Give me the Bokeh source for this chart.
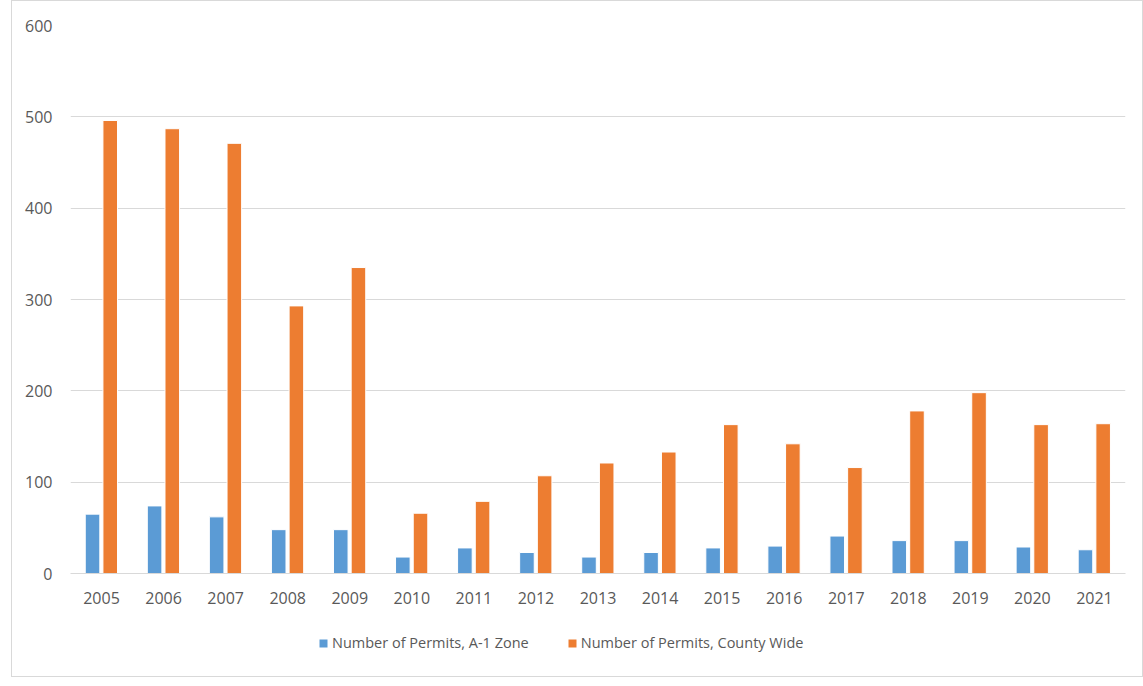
from bokeh.plotting import figure
from bokeh.layouts import column
from bokeh.models import ColumnDataSource, FactorRange, Legend, LegendItem, Range1d, FixedTicker
from bokeh.transform import dodge
from bokeh.embed import file_html
from bokeh.resources import INLINE

years = ["2005", "2006", "2007", "2008", "2009", "2010", "2011", "2012", "2013",
         "2014", "2015", "2016", "2017", "2018", "2019", "2020", "2021"]
a1_zone = [65, 74, 62, 48, 48, 18, 28, 23, 18, 23, 28, 30, 41, 36, 36, 29, 26]
county_wide = [496, 487, 471, 293, 335, 66, 79, 107, 121, 133, 163, 142, 116, 178, 198, 163, 164]
y_ticks = [0, 100, 200, 300, 400, 500, 600]
series_names = ["Number of Permits, A-1 Zone", "Number of Permits, County Wide"]
colors = ["#5B9BD5", "#ED7D31"]

src = ColumnDataSource(dict(year=years, a1=a1_zone, cw=county_wide))

FONT = "Open Sans"
TXT = "#595959"

p = figure(width=1130, height=632, x_range=FactorRange(*years), y_range=Range1d(0, 600),
           output_backend="svg", toolbar_location=None,
           min_border_left=58, min_border_right=17, min_border_top=24, min_border_bottom=60)
p.outline_line_color = None

p.vbar(x=dodge("year", -0.145, range=p.x_range), top="a1", width=0.235, source=src,
       fill_color=colors[0], line_color="white", line_width=1)
p.vbar(x=dodge("year", 0.14, range=p.x_range), top="cw", width=0.235, source=src,
       fill_color=colors[1], line_color="white", line_width=1)

p.xgrid.grid_line_color = None
p.ygrid.grid_line_color = "#d9d9d9"
p.ygrid.grid_line_width = 1
p.yaxis.ticker = FixedTicker(ticks=y_ticks)
p.yaxis.axis_line_color = None
p.yaxis.major_tick_line_color = None
p.yaxis.minor_tick_line_color = None
p.yaxis.major_tick_out = 0
p.yaxis.major_label_standoff = 18
p.xaxis.axis_line_color = "#d9d9d9"
p.xaxis.axis_line_width = 1
p.xaxis.major_tick_line_color = None
p.xaxis.major_tick_out = 0
p.xaxis.major_label_standoff = 18
for ax in (p.xaxis, p.yaxis):
    ax.major_label_text_font = FONT
    ax.major_label_text_font_size = "16px"
    ax.major_label_text_color = TXT

# legend strip
lg = figure(width=1130, height=43, x_range=Range1d(0, 1), y_range=Range1d(0, 1),
            output_backend="svg", toolbar_location=None,
            min_border_left=0, min_border_right=0, min_border_top=0, min_border_bottom=0)
lg.axis.visible = False
lg.grid.visible = False
lg.outline_line_color = None
d1 = lg.vbar(x=[0.5], top=[0], bottom=[0], width=0, fill_color=colors[0], line_color=None)
d2 = lg.vbar(x=[0.5], top=[0], bottom=[0], width=0, fill_color=colors[1], line_color=None)

legend = Legend(items=[LegendItem(label=series_names[0], renderers=[d1]),
                       LegendItem(label=series_names[1], renderers=[d2])],
                orientation="horizontal", location=(248, 24))
legend.label_text_font = FONT
legend.label_text_font_size = "14.5px"
legend.label_text_color = TXT
legend.glyph_width = 10
legend.glyph_height = 10
legend.label_standoff = 4
legend.spacing = 38
legend.padding = 5
legend.margin = 0
legend.border_line_color = None
legend.background_fill_alpha = 0
lg.add_layout(legend, "center")

page = column(p, lg, spacing=0, styles={"border": "1px solid #d9d9d9", "margin-left": "11px"})

open("out.html", "w").write(file_html(page, INLINE))
